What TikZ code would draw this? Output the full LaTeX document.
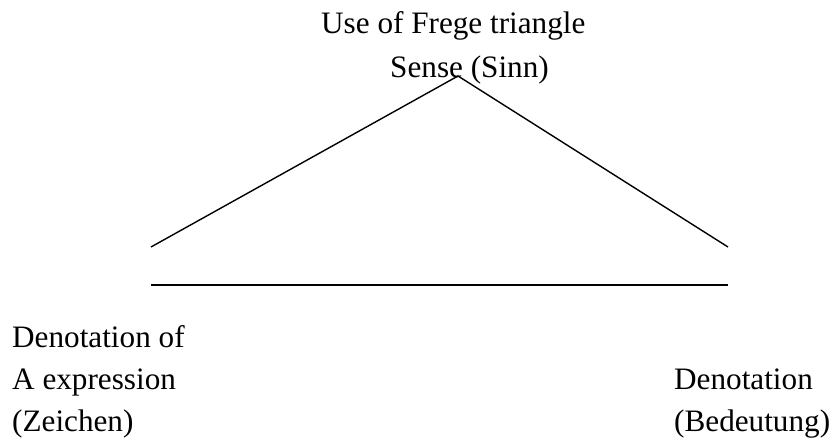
\documentclass[tikz,border=0pt]{standalone}
\usepackage{fontspec}
\setmainfont{Liberation Serif}
\begin{document}
\begin{tikzpicture}[x=1pt,y=-1pt,
  lbl/.style={inner sep=0pt, anchor=base west, font=\fontsize{31.2}{42}\selectfont},
  edge/.style={line width=1.4pt, black}]
\useasboundingbox (0,0) rectangle (833,439);
\node[lbl] (title) at (321,34) {Use of Frege triangle};
\node[lbl] (sense) at (390,77) {Sense (Sinn)};
\node[lbl] (zeichenA) at (12,347) {Denotation of};
\node[lbl] (zeichenB) at (12,389) {A expression};
\node[lbl] (zeichenC) at (12,431) {(Zeichen)};
\node[lbl] (bedeutungA) at (674,389) {Denotation};
\node[lbl] (bedeutungB) at (674,431) {(Bedeutung)};
\coordinate (apex) at (458,76);
\coordinate (L) at (151,247);
\coordinate (R) at (728,247);
\coordinate (HL) at (151,285);
\coordinate (HR) at (728,285);
\draw[edge] (L) -- (apex) -- (R);
\draw[edge, line width=1.8pt] (HL) -- (HR);
\end{tikzpicture}
\end{document}
